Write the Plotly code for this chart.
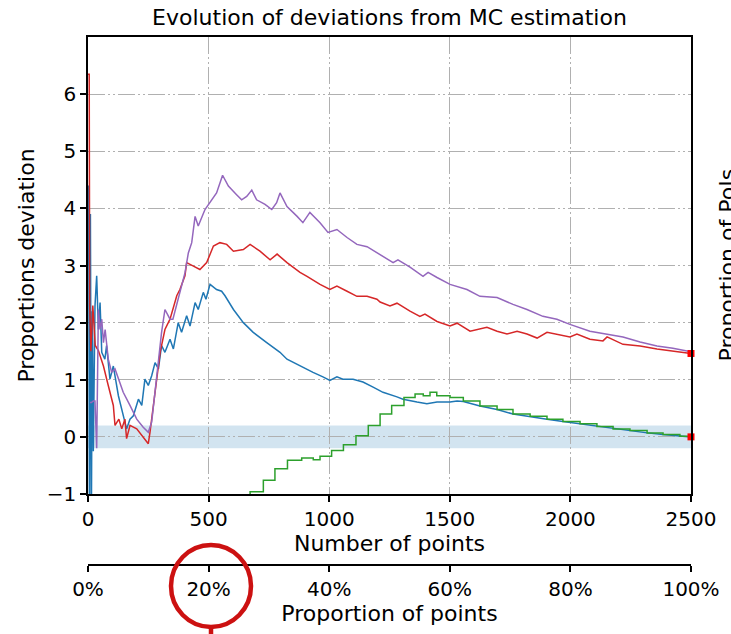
import plotly.graph_objects as go

# ---- data ----
x_ticks = [0, 500, 1000, 1500, 2000, 2500]
y_ticks = [-1, 0, 1, 2, 3, 4, 5, 6]
pct_ticks = [0, 20, 40, 60, 80, 100]
pct_labels = ['0%', '20%', '40%', '60%', '80%', '100%']

red_pts = [(0, 6.35), (5, 6.35), (7, 2.3), (12, 1.5), (20, 2.3), (30, 1.6), (43, 1.51), (64, 1.24),
           (84, 0.9), (105, 0.55), (112, 0.2), (128, 0.31), (140, 0.14), (153, 0.31), (160, -0.03),
           (174, 0.2), (202, 0.14), (250, -0.12), (257, 0.08), (271, 0.55), (285, 1.01), (299, 1.48),
           (319, 1.88), (340, 2.06), (368, 2.47), (381, 2.58), (402, 2.82), (409, 3.05), (437, 2.99),
           (464, 2.93), (492, 3.05), (520, 3.34), (547, 3.4), (575, 3.37), (603, 3.25), (644, 3.28),
           (672, 3.37), (713, 3.25), (755, 3.1), (784, 3.2), (825, 3.05), (879, 2.88), (908, 2.81),
           (962, 2.67), (1003, 2.58), (1032, 2.64), (1074, 2.55), (1115, 2.46), (1157, 2.46),
           (1198, 2.41), (1211, 2.36), (1252, 2.29), (1281, 2.34), (1335, 2.2), (1376, 2.11),
           (1397, 2.15), (1447, 2.02), (1501, 1.94), (1530, 1.99), (1584, 1.85), (1654, 1.92),
           (1696, 1.85), (1737, 1.8), (1779, 1.85), (1820, 1.8), (1862, 1.73), (1903, 1.83),
           (1944, 1.8), (1998, 1.75), (2027, 1.8), (2081, 1.71), (2135, 1.68), (2152, 1.75),
           (2218, 1.62), (2289, 1.59), (2359, 1.54), (2425, 1.5), (2500, 1.46)]

purple_pts = [(8, 0.6), (14, 0.6), (22, 0.63), (29, 0.63), (36, -0.2), (43, 2.23), (50, 1.88), (57, 2.06),
              (64, 1.65), (71, 1.88), (84, 1.36), (98, 1.13), (112, 1.19), (126, 1.01), (146, 0.78),
              (174, 0.55), (202, 0.31), (229, 0.17), (250, 0.08), (264, 0.26), (274, 0.66), (288, 1.13),
              (305, 1.83), (319, 2.23), (340, 2.06), (352, 2.06), (381, 2.53), (402, 2.87), (416, 3.22),
              (430, 3.4), (444, 3.86), (457, 3.69), (485, 3.98), (506, 4.1), (533, 4.27), (558, 4.58),
              (582, 4.39), (616, 4.24), (637, 4.15), (658, 4.21), (679, 4.32), (699, 4.15), (734, 4.07),
              (762, 3.98), (782, 4.1), (796, 4.27), (825, 4.03), (867, 3.86), (891, 3.75), (920, 3.93),
              (962, 3.75), (995, 3.58), (1032, 3.63), (1074, 3.49), (1115, 3.37), (1157, 3.33),
              (1198, 3.22), (1223, 3.16), (1265, 3.05), (1285, 3.1), (1335, 2.97), (1389, 2.81),
              (1410, 2.88), (1447, 2.79), (1501, 2.67), (1571, 2.58), (1625, 2.46), (1696, 2.44),
              (1762, 2.32), (1820, 2.23), (1886, 2.11), (1944, 2.06), (1998, 1.97), (2081, 1.85),
              (2152, 1.8), (2218, 1.75), (2289, 1.66), (2359, 1.59), (2425, 1.55), (2500, 1.49)]

blue_pts = [(0, 3.0), (3, 4.4), (6, -1.5), (10, 3.9), (14, -1.5), (18, 2.2), (22, -0.25), (29, 2.29),
            (36, 2.82), (43, 1.88), (50, 2.35), (57, 1.48), (70, 1.36), (77, 1.6), (91, 1.01), (105, 1.24),
            (126, 0.72), (146, 0.37), (160, 0.14), (174, 0.31), (188, 0.37), (209, 0.66), (223, 0.55),
            (236, 1.01), (250, 0.9), (264, 1.07), (278, 1.3), (292, 1.19), (305, 1.6), (319, 1.48),
            (340, 1.71), (354, 1.54), (374, 2.0), (388, 1.83), (409, 2.12), (423, 1.94), (444, 2.35),
            (457, 2.23), (478, 2.53), (489, 2.41), (506, 2.67), (533, 2.58), (554, 2.55), (568, 2.47),
            (603, 2.23), (644, 2.0), (685, 1.83), (741, 1.65), (796, 1.48), (825, 1.36), (879, 1.24),
            (933, 1.13), (974, 1.05), (1003, 0.99), (1032, 1.05), (1057, 1.01), (1099, 1.01),
            (1140, 0.96), (1182, 0.87), (1223, 0.78), (1281, 0.7), (1306, 0.66), (1364, 0.61),
            (1405, 0.58), (1447, 0.61), (1501, 0.61), (1530, 0.63), (1556, 0.62), (1625, 0.54),
            (1696, 0.48), (1762, 0.4), (1833, 0.36), (1903, 0.31), (1969, 0.27), (2040, 0.23),
            (2110, 0.18), (2177, 0.14), (2247, 0.11), (2318, 0.07), (2384, 0.04), (2454, 0.01),
            (2500, 0.0)]

green_pts = [(640, -1.3), (672, -0.96), (727, -0.76), (775, -0.56), (827, -0.41), (886, -0.37),
             (934, -0.40), (962, -0.34), (1010, -0.24), (1059, -0.14), (1111, 0.02), (1162, 0.2),
             (1211, 0.4), (1259, 0.55), (1310, 0.69), (1356, 0.75), (1390, 0.72), (1418, 0.78),
             (1446, 0.72), (1501, 0.69), (1556, 0.63), (1625, 0.54), (1696, 0.48), (1762, 0.4),
             (1833, 0.36), (1903, 0.31), (1969, 0.27), (2040, 0.23), (2110, 0.18), (2177, 0.14),
             (2247, 0.11), (2318, 0.07), (2384, 0.04), (2454, 0.01), (2500, 0.0)]

band_low, band_high = -0.2, 0.2


def xs(pts):
    return [p[0] for p in pts]


def ys(pts):
    return [p[1] for p in pts]


fig = go.Figure()
fig.add_trace(go.Scatter(x=xs(blue_pts), y=ys(blue_pts), mode='lines',
                         line=dict(color='#1f77b4', width=1.5)))
fig.add_trace(go.Scatter(x=xs(green_pts), y=ys(green_pts), mode='lines',
                         line=dict(color='#2ca02c', width=1.5, shape='hv')))
fig.add_trace(go.Scatter(x=xs(red_pts), y=ys(red_pts), mode='lines',
                         line=dict(color='#d62728', width=1.5)))
fig.add_trace(go.Scatter(x=xs(purple_pts), y=ys(purple_pts), mode='lines',
                         line=dict(color='#9467bd', width=1.5)))
fig.add_trace(go.Scatter(x=[red_pts[-1][0], green_pts[-1][0]], y=[red_pts[-1][1], green_pts[-1][1]],
                         mode='markers', marker=dict(color='red', symbol='square', size=7),
                         cliponaxis=False))
# trace that carries the secondary (percentage) x axis
fig.add_trace(go.Scatter(x=[pct_ticks[0], pct_ticks[-1]], y=[None, None], xaxis='x2', yaxis='y',
                         mode='lines', hoverinfo='skip'))

grid_dash = '17px,3px,2px,3px,2px,3px'
W, H = 731, 634
L, R, T, B = 88, 40, 37, 69
plot_bottom_px = 494
paper_h = H - T - B
y_dom0 = (H - B - plot_bottom_px) / paper_h

axis_common = dict(showline=True, linecolor='black', linewidth=1.5, ticks='outside', ticklen=6,
                   tickwidth=1.5, tickcolor='black', zeroline=False,
                   tickfont=dict(size=20, color='black'))

fig.update_layout(
    width=W, height=H,
    margin=dict(l=L, r=R, t=T, b=B),
    paper_bgcolor='white', plot_bgcolor='white',
    font=dict(family='DejaVu Sans', color='black', size=20),
    showlegend=False,
    title=dict(text='Evolution of deviations from MC estimation', x=0.5, xref='paper', xanchor='center',
               y=1 - 17 / H, yref='container', yanchor='middle', font=dict(size=22)),
    xaxis=dict(range=[0, 2500], domain=[0, 1], anchor='y', tickvals=x_ticks, mirror=True,
               showgrid=True, gridcolor='#b0b0b0', gridwidth=1.3, griddash=grid_dash,
               title=dict(text='Number of points', standoff=2, font=dict(size=22)), **axis_common),
    yaxis=dict(range=[-1, 7], domain=[y_dom0, 1], anchor='x', tickvals=y_ticks, mirror=True,
               showgrid=True, gridcolor='#b0b0b0', gridwidth=1.3, griddash=grid_dash,
               title=dict(text='Proportions deviation', standoff=6, font=dict(size=22)), **axis_common),
    xaxis2=dict(range=[0, 100], overlaying='x', anchor='free', position=0, side='bottom',
                tickvals=pct_ticks, ticktext=pct_labels, showgrid=False,
                title=dict(text='Proportion of points', standoff=3, font=dict(size=22)), **axis_common),
)

# light band around zero
fig.add_shape(type='rect', xref='x domain', yref='y', x0=0, x1=1, y0=band_low, y1=band_high,
              fillcolor='rgba(31,119,180,0.2)', line=dict(width=0), layer='below')


# red circle highlighting "20%"
def px_x(p):
    return (p - L) / (W - L - R)


def px_y(p):
    return (H - B - p) / paper_h


fig.add_shape(type='circle', xref='paper', yref='paper', x0=px_x(171), x1=px_x(251),
              y0=px_y(627), y1=px_y(545), line=dict(color='#cc1111', width=4.5))
fig.add_shape(type='line', xref='paper', yref='paper', x0=px_x(211), x1=px_x(211),
              y0=px_y(627), y1=px_y(645), line=dict(color='#cc1111', width=4.5))

# right-hand axis label (cut off by the figure edge, as in the reference)
fig.add_annotation(text='Proportion of PoIs', xref='paper', yref='paper', x=px_x(712), y=px_y(265),
                   xanchor='left', yanchor='middle', textangle=-90, showarrow=False,
                   font=dict(size=22, color='black'))

fig.write_html('out.html')
